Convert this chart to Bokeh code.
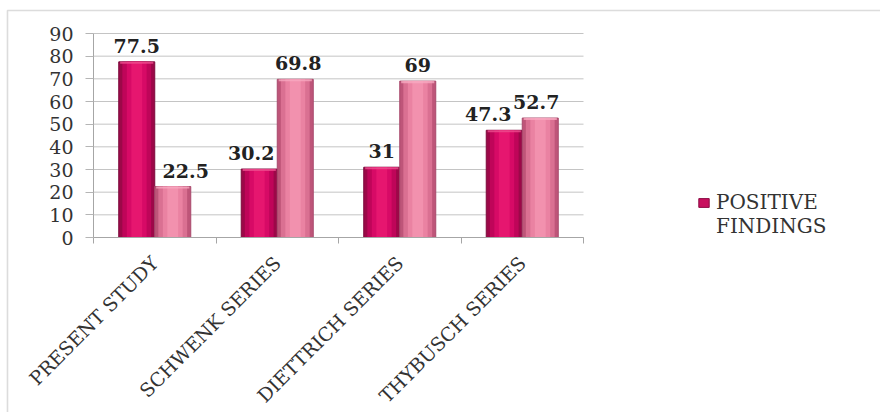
import numpy as np
from bokeh.plotting import figure
from bokeh.models import (Range1d, FixedTicker, ColumnDataSource, Legend,
                          LegendItem, BoxAnnotation)
from bokeh.core.properties import value
from bokeh.embed import file_html
from bokeh.resources import INLINE

# ---- data -------------------------------------------------------------
categories = ["PRESENT STUDY", "SCHWENK SERIES", "DIETTRICH SERIES", "THYBUSCH SERIES"]
positive_findings = [77.5, 30.2, 31, 47.3]
negative_findings = [22.5, 69.8, 69, 52.7]
y_ticks = [0, 10, 20, 30, 40, 50, 60, 70, 80, 90]
legend_lines = ["POSITIVE", "FINDINGS"]

# small horizontal nudges (px) so neighbouring value labels don't collide
positive_label_dx = [0, -8, 0, -16]
negative_label_dx = [13, 3, 0, -4]

SERIF = "DejaVu Serif"
BAR_W = 0.294
W, H = 880, 412

# the plotting area covers the whole canvas; the chart body sits at
# 93..583 px horizontally and 33..237 px vertically
X_ORIGIN_PX, X_SCALE = 93, 122.5          # px at x=0, px per category
Y_ORIGIN_PX, Y_SCALE = 237, 204 / 90      # px at y=0, px per unit

n = len(categories)
idx = np.arange(n)


def make_source(vals, side, dx):
    return ColumnDataSource(dict(
        x=idx + 0.5 + side * BAR_W / 2,
        top=vals,
        cap=[v - 0.9 for v in vals],
        label=[f"{v:g}" for v in vals],
        dx=dx,
    ))


src_pos = make_source(positive_findings, -1, positive_label_dx)
src_neg = make_source(negative_findings, +1, negative_label_dx)

p = figure(
    width=W, height=H,
    x_range=Range1d(-X_ORIGIN_PX / X_SCALE, (W - X_ORIGIN_PX) / X_SCALE),
    y_range=Range1d(-(H - Y_ORIGIN_PX) / Y_SCALE, Y_ORIGIN_PX / Y_SCALE),
    output_backend="svg", toolbar_location=None, min_border=0,
)
p.background_fill_color = "white"
p.border_fill_color = "white"
p.outline_line_color = None
p.grid.visible = False

# ---- chart border ----------------------------------------------------------
p.add_layout(BoxAnnotation(left=7, right=W + 20, top=10, bottom=H + 20,
                           left_units="canvas", right_units="canvas",
                           top_units="canvas", bottom_units="canvas",
                           fill_color=None, line_color="#8c8c8c", line_width=1.6))

# ---- horizontal gridlines over the chart body ---------------------------------
p.segment(x0=0, x1=n, y0=y_ticks, y1=y_ticks, line_color="#c4c4c4", line_width=1)

# legend swatch: a zero-height copy of the first series, hidden behind its bars
swatch = p.vbar(x="x", top=0, bottom=0, width=BAR_W * 0.5, source=src_pos,
                fill_color="#c8105e", line_color="#8c0a44", line_width=1)

# ---- bars: layered widths give a rounded, shaded look --------------------
pos_shades = ["#9c0848", "#bf0559", "#d70a66", "#e6166f"]
neg_shades = ["#be5579", "#da7092", "#ea82a2", "#f291ae"]
fracs = [1.0, 0.8, 0.55, 0.3]

for src, shades, edge, cap in ((src_pos, pos_shades, "#7d0a3c", "#ee4d8e"),
                               (src_neg, neg_shades, "#a84a6c", "#f7a9c1")):
    for frac, col in zip(fracs, shades):
        p.vbar(x="x", top="top", bottom=0, width=BAR_W * frac, source=src,
               fill_color=col, line_color=edge if frac == 1.0 else None,
               line_width=1)
    p.vbar(x="x", top="top", bottom="cap", width=BAR_W * 0.92, source=src,
           fill_color=cap, fill_alpha=0.8, line_color=None)

# ---- value labels ------------------------------------------------------------
for src in (src_pos, src_neg):
    p.text(x="x", y="top", text="label", source=src, x_offset="dx", y_offset=-16,
           text_align="center", text_baseline="alphabetic",
           text_font=value(SERIF), text_font_style="bold",
           text_font_size="19px", text_color="#222222")

# ---- axes --------------------------------------------------------------------
p.yaxis.fixed_location = 0
p.yaxis.bounds = (0, 90)
p.yaxis.ticker = FixedTicker(ticks=y_ticks, minor_ticks=[])
p.yaxis.axis_line_color = "#a6a6a6"
p.yaxis.major_tick_line_color = "#b5b5b5"
p.yaxis.major_tick_out = 8
p.yaxis.major_tick_in = 0
p.yaxis.minor_tick_line_color = None
p.yaxis.major_label_standoff = 12
p.yaxis.major_label_text_font = SERIF
p.yaxis.major_label_text_font_size = "19px"
p.yaxis.major_label_text_color = "#333333"

p.xaxis.fixed_location = 0
p.xaxis.bounds = (0, n)
p.xaxis.ticker = FixedTicker(ticks=list(idx + 0.5), minor_ticks=list(range(n + 1)))
p.xaxis.major_label_overrides = {float(i + 0.5): c for i, c in enumerate(categories)}
p.xaxis.major_label_orientation = np.pi / 4
p.xaxis.axis_line_color = "#a6a6a6"
p.xaxis.major_tick_line_color = None
p.xaxis.minor_tick_line_color = "#a6a6a6"
p.xaxis.minor_tick_out = 6
p.xaxis.minor_tick_in = 0
p.xaxis.major_label_standoff = 16
p.xaxis.major_label_text_font = SERIF
p.xaxis.major_label_text_font_size = "19px"
p.xaxis.major_label_text_color = "#333333"

# ---- legend (only the first series is listed) --------------------------------
blank = p.vbar(x=[], top=[], width=0.1, fill_color=None, line_color=None)
legend = Legend(
    items=[LegendItem(label=legend_lines[0], renderers=[swatch], index=0),
           LegendItem(label=legend_lines[1], renderers=[blank])],
    location=(697, H - 238),
    padding=0, margin=0, spacing=0,
    glyph_width=13, glyph_height=11, label_height=24, label_standoff=6,
    label_text_font=SERIF, label_text_font_size="20px",
    label_text_color="#333333",
    border_line_color=None, background_fill_color=None,
)
p.add_layout(legend)

open("out.html", "w").write(file_html(p, INLINE))
